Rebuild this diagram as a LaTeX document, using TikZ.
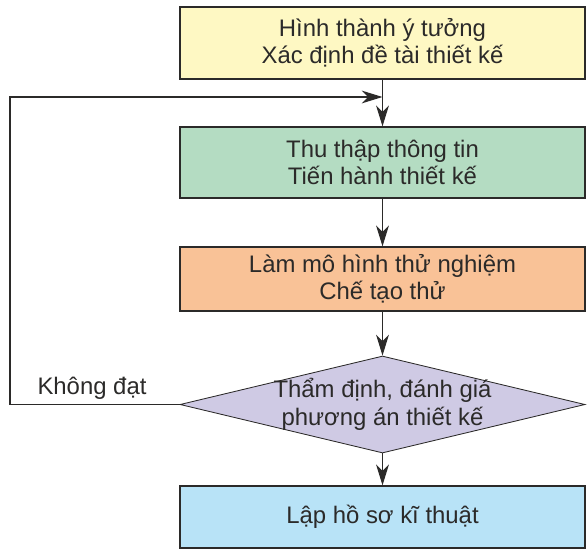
\documentclass[tikz,border=0pt]{standalone}
\usepackage{fontspec}
\setmainfont{Liberation Sans}
\usetikzlibrary{shapes.geometric, arrows.meta, calc}
\definecolor{lineGray}{HTML}{2B2A29}
\definecolor{ideaYellow}{HTML}{FEF8C3}
\definecolor{infoGreen}{HTML}{B4DCC2}
\definecolor{protoOrange}{HTML}{F9C297}
\definecolor{checkLilac}{HTML}{CFCAE4}
\definecolor{docBlue}{HTML}{B8E3F7}

\begin{document}
\begin{tikzpicture}[
  every node/.style={font=\fontsize{17pt}{19.5pt}\selectfont, text=lineGray},
  block/.style={rectangle, draw=lineGray, line width=0.9pt, minimum width=10.125cm, align=center},
  decision/.style={diamond, draw=lineGray, line width=0.6pt, fill=checkLilac, aspect=4.17, inner xsep=-0.6cm, inner ysep=0pt, minimum width=10.125cm, minimum height=2.425cm, align=center},
  arrow/.style={-{Stealth[length=5.2mm, width=3.2mm, inset=1.6mm]}, line width=0.9pt, draw=lineGray},
]
\useasboundingbox (0,0) rectangle (14.675,13.7);

% === STEPS ===
\node[block, fill=ideaYellow, minimum height=1.8cm] (idea) at (9.5625, 12.625) {Hình thành ý tưởng\\Xác định đề tài thiết kế};
\node[block, fill=infoGreen, minimum height=1.775cm] (collect) at (9.5625, 9.6375) {Thu thập thông tin\\Tiến hành thiết kế};
\node[block, fill=protoOrange, minimum height=1.6cm] (proto) at (9.5625, 6.725) {Làm mô hình thử nghiệm\\Chế tạo thử};
\node[decision] (check) at (9.5625, 3.5875) {Thẩm định, đánh giá\\phương án thiết kế};
\node[block, fill=docBlue, minimum height=1.55cm] (doc) at (9.5625, 0.775) {Lập hồ sơ kĩ thuật};

% === LOOP BACK ===
\coordinate (join) at (9.5625, 11.275);
\coordinate (farleft) at (0.25, 0);
\node (fail) at (2.3, 4.0) {Không đạt};

% === ARROWS ===
\draw[arrow] (idea) -- (collect);
\draw[arrow] (collect) -- (proto);
\draw[arrow] (proto) -- (check);
\draw[arrow] (check) -- (doc);
\draw[arrow] (check.west) -- (farleft |- check.west) -- (farleft |- join) -- (join);

\end{tikzpicture}
\end{document}
